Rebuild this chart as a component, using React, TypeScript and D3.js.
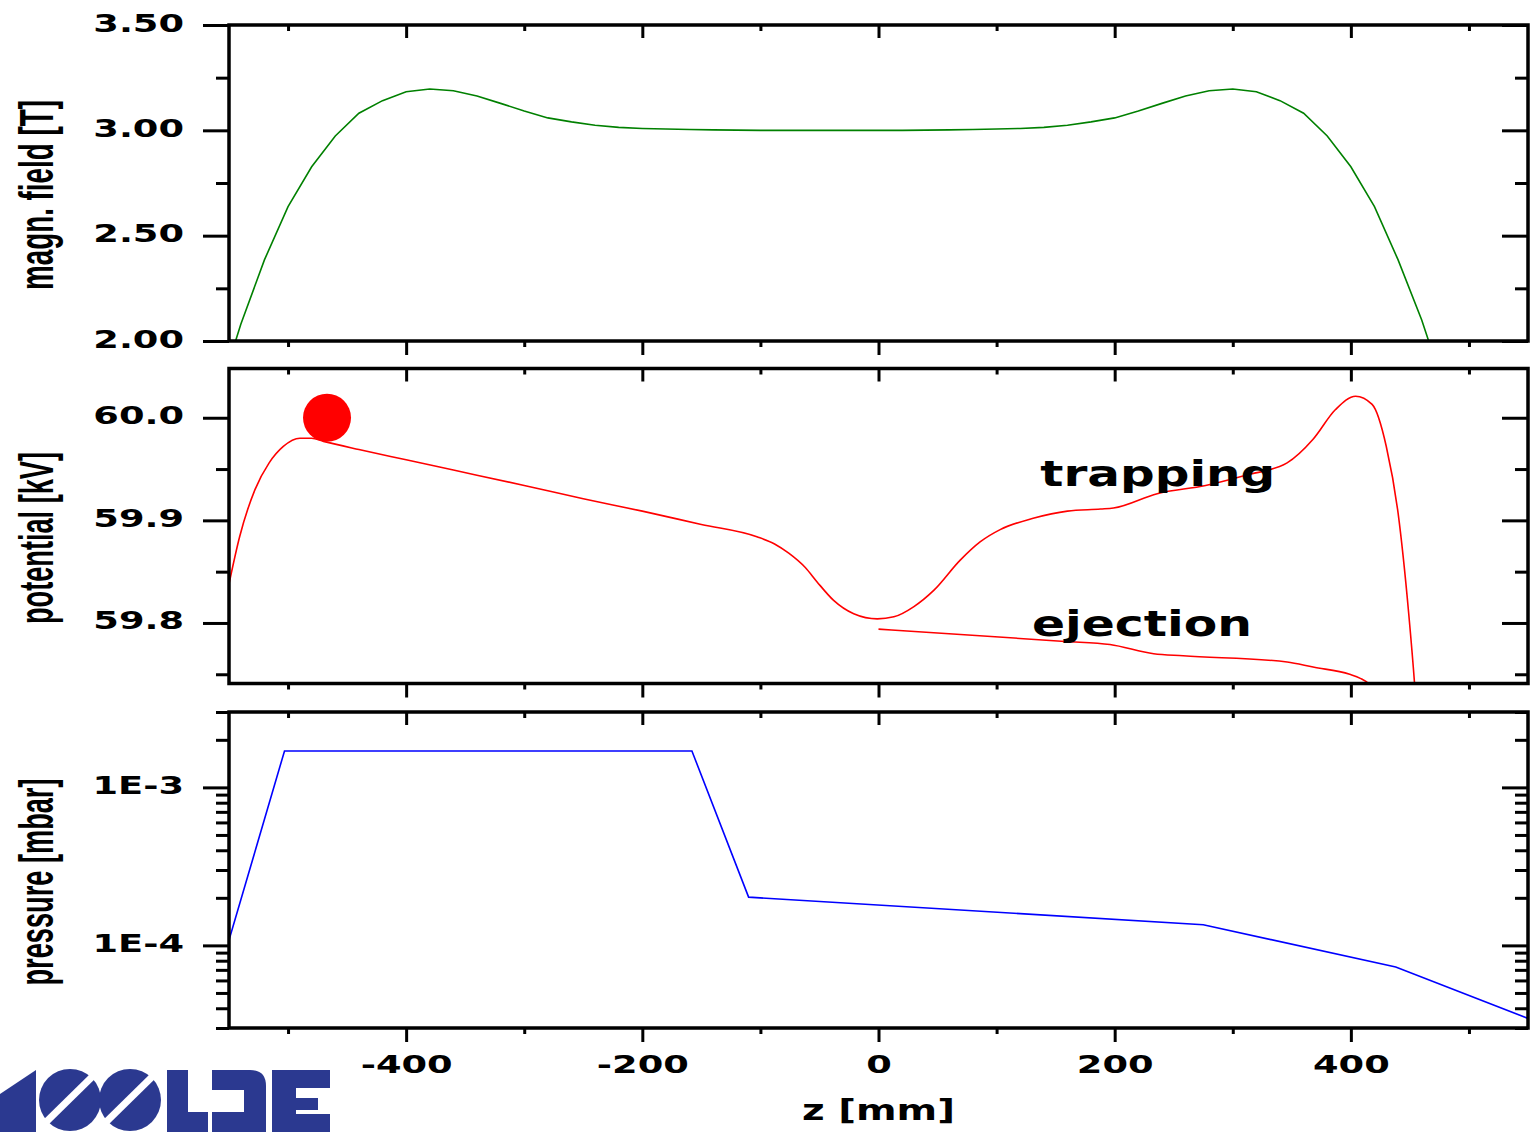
import React, { useEffect, useRef } from 'react';
import * as d3 from 'd3';

const W = 1531;
const H = 1132;

// z axis [mm]
const zDomain = [-550, 550];
const zMajor = [-400, -200, 0, 200, 400];
const zMinor = [-500, -300, -100, 100, 300, 500];

// magnetic field [T]
const fieldZ = [-560, -540, -520, -500, -480, -460, -440, -420, -400, -380, -360, -340, -320, -300, -280, -260, -240, -220, -200, -180, -160, -140, -120, -100, -80, -60, -40, -20, 0, 20, 40, 60, 80, 100, 120, 140, 160, 180, 200, 220, 240, 260, 280, 300, 320, 340, 360, 380, 400, 420, 440, 460, 480];
const fieldT = [1.72, 2.08, 2.385, 2.638, 2.827, 2.973, 3.081, 3.141, 3.183, 3.196, 3.188, 3.163, 3.128, 3.092, 3.059, 3.04, 3.024, 3.014, 3.009, 3.006, 3.004, 3.002, 3.001, 3.0, 3.0, 3.0, 3.0, 3.0, 3.0, 3.0, 3.001, 3.002, 3.004, 3.006, 3.009, 3.014, 3.024, 3.04, 3.059, 3.092, 3.128, 3.163, 3.188, 3.196, 3.183, 3.141, 3.081, 2.973, 2.827, 2.638, 2.385, 2.1, 1.76];
const fieldMajor = [2.0, 2.5, 3.0, 3.5];
const fieldMinor = [2.25, 2.75, 3.25];

// potential [kV]
const trapZ = [-550, -541, -528, -516, -504, -490, -480, -470, -440, -400, -360, -300, -250, -200, -150, -103, -88, -76, -62, -52, -38, -21, -1, 13, 30, 47, 69, 86, 103, 131, 160, 188, 199, 236, 277, 311, 346, 368, 387, 404, 418, 430, 440, 449, 454, 457];
const trapKV = [59.838, 59.884, 59.93, 59.956, 59.972, 59.98, 59.98, 59.977, 59.969, 59.959, 59.949, 59.934, 59.921, 59.909, 59.896, 59.884, 59.877, 59.868, 59.854, 59.84, 59.822, 59.809, 59.804, 59.806, 59.816, 59.832, 59.861, 59.879, 59.891, 59.902, 59.909, 59.911, 59.912, 59.926, 59.934, 59.944, 59.956, 59.979, 60.008, 60.021, 60.013, 59.972, 59.907, 59.809, 59.74, 59.69];
const ejectZ = [0, 158, 196, 233, 258, 346, 368, 399, 408, 416, 421];
const ejectKV = [59.794, 59.782, 59.779, 59.77, 59.768, 59.762, 59.757, 59.75, 59.746, 59.74, 59.733];
const potMajor = [59.8, 59.9, 60.0];
const potMinor = [59.75, 59.85, 59.95];
const ionZ = -467;
const ionKV = 60.0;

// pressure [mbar]
const pressZ = [-550, -503, -158, -110, 275, 438, 550];
const pressMbar = [1.08e-4, 1.7e-3, 1.7e-3, 2.02e-4, 1.35e-4, 7.3e-5, 3.45e-5];
const pressMajor = [1e-4, 1e-3];
const pressLabels = ['1E-4', '1E-3'];

const LEFT = 229;
const RIGHT = 1528;
const WIDE = 'DejaVu Sans, sans-serif';
const NARROW = 'Liberation Sans, Arial, sans-serif';

function stretch(sel, k) {
  sel.each(function () {
    const w = this.getComputedTextLength();
    d3.select(this).attr('textLength', w * k).attr('lengthAdjust', 'spacingAndGlyphs');
  });
}

export default function App() {
  const svgRef = useRef(null);

  useEffect(() => {
    const svg = d3.select(svgRef.current);
    svg.selectAll('*').remove();

    const x = d3.scaleLinear().domain(zDomain).range([LEFT, RIGHT]);

    const logMinor = [];
    [-5, -4, -3].forEach(d => {
      for (let m = 2; m <= 9; m++) {
        const v = m * Math.pow(10, d);
        if (v >= 2.99e-5 && v <= 3.01e-3) logMinor.push(v);
      }
    });

    const panels = [
      {
        top: 25, bottom: 341,
        y: d3.scaleLinear().domain([2.0, 3.5]),
        major: fieldMajor, minor: fieldMinor, fmt: d3.format('.2f'),
        title: 'magn. field [T]', titleLen: 190,
      },
      {
        top: 368.5, bottom: 683.5,
        y: d3.scaleLinear().domain([59.741, 60.048]),
        major: potMajor, minor: potMinor, fmt: d3.format('.1f'),
        title: 'potential [kV]', titleLen: 172,
      },
      {
        top: 712, bottom: 1028,
        y: d3.scaleLog().domain([3e-5, 3e-3]),
        major: pressMajor, minor: logMinor, fmt: d => pressLabels[pressMajor.indexOf(d)],
        title: 'pressure [mbar]', titleLen: 207,
      },
    ];

    panels.forEach((p, i) => {
      p.y.range([p.bottom, p.top]);
      const g = svg.append('g');

      g.append('clipPath').attr('id', `clip${i}`)
        .append('rect')
        .attr('x', LEFT).attr('y', p.top)
        .attr('width', RIGHT - LEFT).attr('height', p.bottom - p.top);

      const styleAxis = a => {
        a.select('.domain').remove();
        a.selectAll('line').attr('stroke', '#000').attr('stroke-width', 3);
        a.attr('font-family', WIDE).attr('font-size', 25).attr('font-weight', 'bold');
      };

      // left ticks (outside)
      g.append('g').attr('transform', `translate(${LEFT},0)`)
        .call(d3.axisLeft(p.y).tickValues(p.major).tickFormat(p.fmt).tickSize(26).tickPadding(19))
        .call(styleAxis)
        .call(a => a.selectAll('text').attr('dy', 6).attr('fill', '#000'))
        .call(a => stretch(a.selectAll('text'), 1.47));
      g.append('g').attr('transform', `translate(${LEFT},0)`)
        .call(d3.axisLeft(p.y).tickValues(p.minor).tickFormat('').tickSize(13))
        .call(styleAxis);

      // right ticks (inside)
      g.append('g').attr('transform', `translate(${RIGHT},0)`)
        .call(d3.axisLeft(p.y).tickValues(p.major).tickFormat('').tickSize(26))
        .call(styleAxis);
      g.append('g').attr('transform', `translate(${RIGHT},0)`)
        .call(d3.axisLeft(p.y).tickValues(p.minor).tickFormat('').tickSize(13))
        .call(styleAxis);

      // top ticks (inside)
      g.append('g').attr('transform', `translate(0,${p.top})`)
        .call(d3.axisBottom(x).tickValues(zMajor).tickFormat('').tickSize(13))
        .call(styleAxis);
      g.append('g').attr('transform', `translate(0,${p.top})`)
        .call(d3.axisBottom(x).tickValues(zMinor).tickFormat('').tickSize(6))
        .call(styleAxis);

      // bottom ticks (outside), labels only on last panel
      const bAxis = g.append('g').attr('transform', `translate(0,${p.bottom})`)
        .call(d3.axisBottom(x).tickValues(zMajor)
          .tickFormat(i === 2 ? d3.format('d') : '').tickSize(14).tickPadding(13))
        .call(styleAxis);
      if (i === 2) {
        bAxis.selectAll('text').attr('fill', '#000').text(d => String(d).replace('−', '-'));
        stretch(bAxis.selectAll('text'), 1.47);
      }
      g.append('g').attr('transform', `translate(0,${p.bottom})`)
        .call(d3.axisBottom(x).tickValues(zMinor).tickFormat('').tickSize(6))
        .call(styleAxis);

      // y title
      g.append('text')
        .attr('transform', `translate(53,${(p.top + p.bottom) / 2 + 12}) rotate(-90)`)
        .attr('text-anchor', 'middle')
        .attr('font-family', NARROW)
        .attr('font-weight', 'bold')
        .attr('font-size', 48)
        .attr('textLength', p.titleLen)
        .attr('lengthAdjust', 'spacingAndGlyphs')
        .attr('fill', '#000')
        .text(p.title);

      p.g = g;
    });

    // curves
    const [pf, pp, pr] = panels;

    const fieldLine = d3.line().x(d => x(d[0])).y(d => pf.y(d[1]));
    pf.g.append('path')
      .datum(fieldZ.map((z, k) => [z, fieldT[k]]))
      .attr('clip-path', 'url(#clip0)')
      .attr('fill', 'none').attr('stroke', '#008000').attr('stroke-width', 1.6)
      .attr('d', fieldLine);

    const potLine = d3.line().curve(d3.curveMonotoneX).x(d => x(d[0])).y(d => pp.y(d[1]));
    pp.g.append('path')
      .datum(trapZ.map((z, k) => [z, trapKV[k]]))
      .attr('clip-path', 'url(#clip1)')
      .attr('fill', 'none').attr('stroke', '#ff0000').attr('stroke-width', 1.6)
      .attr('d', potLine);
    pp.g.append('path')
      .datum(ejectZ.map((z, k) => [z, ejectKV[k]]))
      .attr('clip-path', 'url(#clip1)')
      .attr('fill', 'none').attr('stroke', '#ff0000').attr('stroke-width', 1.6)
      .attr('d', potLine);
    pp.g.append('circle')
      .attr('cx', x(ionZ)).attr('cy', pp.y(ionKV)).attr('r', 24)
      .attr('fill', '#ff0000');

    const labelText = (txt, z, v, len) => pp.g.append('text')
      .attr('x', x(z)).attr('y', pp.y(v))
      .attr('font-family', WIDE).attr('font-weight', 'bold').attr('font-size', 35)
      .attr('textLength', len).attr('lengthAdjust', 'spacingAndGlyphs')
      .attr('fill', '#000')
      .text(txt);
    labelText('trapping', 137, 59.933, 235);
    labelText('ejection', 130, 59.787, 220);

    const pressLine = d3.line().x(d => x(d[0])).y(d => pr.y(d[1]));
    pr.g.append('path')
      .datum(pressZ.map((z, k) => [z, pressMbar[k]]))
      .attr('clip-path', 'url(#clip2)')
      .attr('fill', 'none').attr('stroke', '#0000ff').attr('stroke-width', 1.6)
      .attr('d', pressLine);

    // frames
    panels.forEach(p => {
      p.g.append('rect')
        .attr('x', LEFT).attr('y', p.top)
        .attr('width', RIGHT - LEFT).attr('height', p.bottom - p.top)
        .attr('fill', 'none').attr('stroke', '#000').attr('stroke-width', 3.5);
    });

    // x title
    svg.append('text')
      .attr('x', x(0)).attr('y', 1120)
      .attr('text-anchor', 'middle')
      .attr('font-family', WIDE).attr('font-weight', 'bold').attr('font-size', 28)
      .attr('textLength', 153).attr('lengthAdjust', 'spacingAndGlyphs')
      .attr('fill', '#000')
      .text('z [mm]');

    // ISOLDE logo
    const logo = svg.append('g').attr('fill', '#2b3990');
    logo.append('path').attr('d', 'M0,1094 L36,1070 L36,1132 L0,1132 Z');
    [70, 130].forEach(cx => {
      logo.append('circle').attr('cx', cx).attr('cy', 1100).attr('r', 31);
      logo.append('line')
        .attr('x1', cx - 28).attr('y1', 1126).attr('x2', cx + 26).attr('y2', 1073)
        .attr('stroke', '#fff').attr('stroke-width', 7);
    });
    logo.append('path').attr('d', 'M167,1070 H188 V1112 H208 V1132 H167 Z');
    logo.append('path').attr('d', 'M212,1070 H250 Q266,1070 266,1086 V1132 H212 V1112 H244 V1090 H212 Z');
    logo.append('path').attr('d', 'M272,1132 V1070 H330 V1088 H296 V1098 H318 V1110 H296 V1114 H330 V1132 Z');
  }, []);

  return (
    <svg
      ref={svgRef}
      width={W}
      height={H}
      style={{ position: 'absolute', left: 0, top: 0, display: 'block', background: '#fff' }}
    />
  );
}
